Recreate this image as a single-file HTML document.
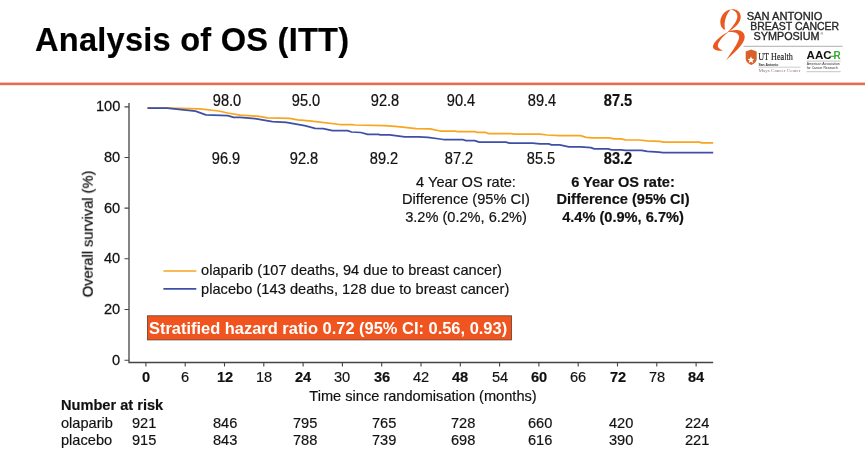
<!DOCTYPE html>
<html><head><meta charset="utf-8">
<style>
html,body{margin:0;padding:0;background:#fff;}
body{width:865px;height:460px;position:relative;overflow:hidden;font-family:"Liberation Sans",sans-serif;color:#111;}
.t{position:absolute;will-change:transform;white-space:nowrap;line-height:1;-webkit-text-stroke-width:0.18px;}
.c{transform:translateX(-50%);}
.b{font-weight:bold;}
#rule{position:absolute;left:0;top:82px;width:865px;height:4px;background:linear-gradient(to bottom,#f5c3b5 0,#f5c3b5 1px,#ea6a4d 1px,#ea6a4d 3px,#fbeae4 3px,#fbeae4 4px);}
svg{position:absolute;left:0;top:0;will-change:transform;}
</style></head><body>
<div id="rule"></div>
<svg width="865" height="460" viewBox="0 0 865 460">
<g stroke="#444" stroke-width="1.1" fill="none">
<path d="M129 103V362.5H713.2" stroke-width="1.3"/>
<path d="M124.5 106.9H129M124.5 157.5H129M124.5 208.1H129M124.5 258.8H129M124.5 309.5H129M124.5 360.2H129"/>
<path d="M145.9 362.5v4M185.2 362.5v4M224.5 362.5v4M263.8 362.5v4M303.1 362.5v4M342.4 362.5v4M381.7 362.5v4M421.0 362.5v4M460.3 362.5v4M499.6 362.5v4M538.9 362.5v4M578.2 362.5v4M617.5 362.5v4M656.8 362.5v4M696.1 362.5v4"/>
</g>
<path id="ora" fill="none" stroke="#f9a51f" stroke-width="1.75" stroke-linejoin="round" d="M147.5 108.1H167.2L180.5 108.3L200 108.9L218.6 111L227.9 113L240 115.2L257.3 116.2L267.7 117.9L289.7 118.3L297.8 119.9L309.4 120.8L340 124.5H351.6L355 125L384 125.6L395.5 126.4L416.3 128.7L430.2 128.8L440 131H455L457 131.5H474.7L477 132.3H485.1L488.6 133.5H510.5L514 134.2H540L547 135L559.7 135.6H580.5L586.2 137.3L592 137.9H609.4L614 138.8H621L625.5 139.9L639.2 140L647.3 140.8L660 141.4L663.5 142.1H699.4L701.7 142.9H713.2"/>
<path id="blu" fill="none" stroke="#3e4fa7" stroke-width="1.75" stroke-linejoin="round" d="M147.5 108.1H167.2L195.5 111.2L205.9 114.8L227.9 115.6L233.6 117.3H240L255 118.7L272.4 121.7L286.2 122.3L304.7 125.7L315.1 128.3L323.2 128.6L332.5 130.6H347.5L351.6 132L360.8 132.5L367.7 134.3H378.2L380.5 134.9H389.7L404.7 136.9H418.6L427.9 137.4L440 139L443.5 139.5H462.5L466 140.7H474.7L479.3 142.2H505.9L509.4 143.1H532.5L540 143.9H548.7L551.6 144.9H559.7L568.9 146.8H580.5L590.9 147.7L594.3 148.9H608.2L611.7 149.8H621L625.5 150.4H641.6L647.3 151.4L658.9 152.2L663 152.7H713.2"/>
<path d="M163.4 271H196.3" stroke="#f9a51f" stroke-width="1.7"/>
<path d="M163.4 288.9H196.3" stroke="#3e4fa7" stroke-width="1.7"/>
<rect x="147.5" y="315.8" width="364" height="24.1" fill="#f1551f" stroke="#6a4030" stroke-width="0.85"/>
</svg>

<svg width="865" height="460" viewBox="0 0 865 460" style="font-family:'Liberation Sans',sans-serif">
<g transform="translate(708,4) scale(0.13043)" fill="#ea5a20">
<path d="M175 42C122 48 86 105 96 155C101 180 114 194 132 198C123 172 126 130 139 98C149 74 161 55 175 42Z"/>
<path d="M175 42C222 31 254 62 251 104C248 148 200 190 148 218C180 185 220 140 225 100C228 70 206 48 175 42Z"/>
<path d="M148 216C195 194 260 190 279 236C294 284 240 342 138 432C192 352 242 288 238 250C234 221 198 212 148 216Z"/>
<path d="M162 208C110 235 48 280 38 322C31 351 82 365 114 357C92 346 72 336 76 314C80 286 120 240 162 208Z"/>
</g>
<g fill="#262626" font-size="11.1" stroke="#262626" stroke-width="0.35">
<text x="746.7" y="19.6" textLength="75.8" lengthAdjust="spacingAndGlyphs">SAN ANTONIO</text>
<text x="750.2" y="30" textLength="89" lengthAdjust="spacingAndGlyphs">BREAST CANCER</text>
<text x="753.6" y="40.3" textLength="66" lengthAdjust="spacingAndGlyphs">SYMPOSIUM</text>
<text x="820.4" y="35" font-size="3.5" stroke="none">®</text>
</g>
<path d="M743.6 46.3H842.6" stroke="#9a9a9a" stroke-width="0.8"/>
<!-- UT shield -->
<path d="M745.7 51.6L751.2 49.6L756.7 51.6V58.5C756.7 61.8 754 63.8 751.2 65C748.4 63.8 745.7 61.8 745.7 58.5Z" fill="#d8602a"/>
<path d="M751 56.6l1 2.2 2.4 0.2-1.8 1.6 0.5 2.3-2.1-1.2-2.1 1.2 0.5-2.3-1.8-1.6 2.4-0.2z" fill="#fff"/>
<text x="758.2" y="60.4" font-family="'Liberation Serif',serif" font-size="9.8" fill="#222" stroke="#222" stroke-width="0.15" textLength="34.6" lengthAdjust="spacingAndGlyphs">UT Health</text>
<text x="758.4" y="65.6" font-size="2.8" fill="#333" font-weight="bold" textLength="20" lengthAdjust="spacingAndGlyphs">San Antonio</text>
<path d="M758.4 67.2H800.5" stroke="#999" stroke-width="0.5"/>
<text x="758.4" y="72.2" font-family="'Liberation Serif',serif" font-size="4.4" fill="#8f7478" textLength="42" lengthAdjust="spacingAndGlyphs">Mays Cancer Center</text>
<!-- AACR -->
<text x="806.6" y="58.9" font-size="11.6" font-weight="bold" fill="#111" textLength="25" lengthAdjust="spacingAndGlyphs">AAC</text>
<text x="833.6" y="58.9" font-size="11.6" font-weight="bold" fill="#3aa935" textLength="7.2" lengthAdjust="spacingAndGlyphs">R</text>
<path d="M829.6 56.3H835.5" stroke="#3aa935" stroke-width="1.2"/>
<path d="M806.6 61.1H840.7M806.6 71.7H840.7" stroke="#888" stroke-width="0.5"/>
<text x="806.8" y="65.1" font-size="3.1" fill="#333" textLength="33" lengthAdjust="spacingAndGlyphs">American Association</text>
<text x="806.8" y="69.1" font-size="3.1" fill="#333" textLength="31" lengthAdjust="spacingAndGlyphs">for Cancer Research</text>
</svg>

<div class="t b" style="top:23.69px;font-size:32.6px;left:34.9px;color:#000;letter-spacing:0.24px;">Analysis of OS (ITT)</div>
<div class="t" style="top:99.12px;font-size:14.6px;right:744.7px;transform:scaleY(1.06);transform-origin:50% 48.5%;-webkit-text-stroke-width:0.25px;">100</div>
<div class="t" style="top:150.12px;font-size:14.6px;right:744.7px;transform:scaleY(1.06);transform-origin:50% 48.5%;-webkit-text-stroke-width:0.25px;">80</div>
<div class="t" style="top:200.72px;font-size:14.6px;right:744.7px;transform:scaleY(1.06);transform-origin:50% 48.5%;-webkit-text-stroke-width:0.25px;">60</div>
<div class="t" style="top:251.32px;font-size:14.6px;right:744.7px;transform:scaleY(1.06);transform-origin:50% 48.5%;-webkit-text-stroke-width:0.25px;">40</div>
<div class="t" style="top:301.92px;font-size:14.6px;right:744.7px;transform:scaleY(1.06);transform-origin:50% 48.5%;-webkit-text-stroke-width:0.25px;">20</div>
<div class="t" style="top:352.52px;font-size:14.6px;right:744.7px;transform:scaleY(1.06);transform-origin:50% 48.5%;-webkit-text-stroke-width:0.25px;">0</div>
<div class="t" id="ylab" style="left:88px;top:234.2px;transform:translate(-50%,-50%) rotate(-90deg);font-size:14.6px;color:#000;">Overall survival (%)</div>
<div class="t c b" style="top:370.12px;font-size:14.6px;left:145.9px;">0</div>
<div class="t c" style="top:370.12px;font-size:14.6px;left:185.2px;">6</div>
<div class="t c b" style="top:370.12px;font-size:14.6px;left:224.5px;">12</div>
<div class="t c" style="top:370.12px;font-size:14.6px;left:263.8px;">18</div>
<div class="t c b" style="top:370.12px;font-size:14.6px;left:303.1px;">24</div>
<div class="t c" style="top:370.12px;font-size:14.6px;left:342.4px;">30</div>
<div class="t c b" style="top:370.12px;font-size:14.6px;left:381.7px;">36</div>
<div class="t c" style="top:370.12px;font-size:14.6px;left:421.0px;">42</div>
<div class="t c b" style="top:370.12px;font-size:14.6px;left:460.3px;">48</div>
<div class="t c" style="top:370.12px;font-size:14.6px;left:499.6px;">54</div>
<div class="t c b" style="top:370.12px;font-size:14.6px;left:538.9px;">60</div>
<div class="t c" style="top:370.12px;font-size:14.6px;left:578.2px;">66</div>
<div class="t c b" style="top:370.12px;font-size:14.6px;left:617.5px;">72</div>
<div class="t c" style="top:370.12px;font-size:14.6px;left:656.8px;">78</div>
<div class="t c b" style="top:370.12px;font-size:14.6px;left:696.1px;">84</div>
<div class="t c" style="top:388.52px;font-size:14.6px;left:422.7px;">Time since randomisation (months)</div>
<div class="t b" style="top:398.02px;font-size:14.6px;left:60.8px;">Number at risk</div>
<div class="t" style="top:415.92px;font-size:14.6px;left:60.8px;">olaparib</div>
<div class="t" style="top:433.22px;font-size:14.6px;left:60.8px;">placebo</div>
<div class="t" style="top:415.92px;font-size:14.6px;left:132.0px;">921</div>
<div class="t" style="top:433.22px;font-size:14.6px;left:132.0px;">915</div>
<div class="t" style="top:415.92px;font-size:14.6px;left:213.4px;">846</div>
<div class="t" style="top:433.22px;font-size:14.6px;left:213.4px;">843</div>
<div class="t" style="top:415.92px;font-size:14.6px;left:292.8px;">795</div>
<div class="t" style="top:433.22px;font-size:14.6px;left:292.8px;">788</div>
<div class="t" style="top:415.92px;font-size:14.6px;left:371.9px;">765</div>
<div class="t" style="top:433.22px;font-size:14.6px;left:371.9px;">739</div>
<div class="t" style="top:415.92px;font-size:14.6px;left:451.3px;">728</div>
<div class="t" style="top:433.22px;font-size:14.6px;left:451.3px;">698</div>
<div class="t" style="top:415.92px;font-size:14.6px;left:528.1px;">660</div>
<div class="t" style="top:433.22px;font-size:14.6px;left:528.1px;">616</div>
<div class="t" style="top:415.92px;font-size:14.6px;left:608.7px;">420</div>
<div class="t" style="top:433.22px;font-size:14.6px;left:608.7px;">390</div>
<div class="t" style="top:415.92px;font-size:14.6px;left:685.3px;">224</div>
<div class="t" style="top:433.22px;font-size:14.6px;left:685.3px;">221</div>
<div class="t" style="top:263.12px;font-size:14.6px;left:201px;letter-spacing:0.035px;">olaparib (107 deaths, 94 due to breast cancer)</div>
<div class="t" style="top:281.52px;font-size:14.6px;left:201px;letter-spacing:0.035px;">placebo (143 deaths, 128 due to breast cancer)</div>
<div class="t c" style="top:94.22px;font-size:14.6px;left:227px;transform:translateX(-50%) scaleY(1.07);transform-origin:50% 48.5%;-webkit-text-stroke-width:0.2px;">98.0</div>
<div class="t c" style="top:94.22px;font-size:14.6px;left:306px;transform:translateX(-50%) scaleY(1.07);transform-origin:50% 48.5%;-webkit-text-stroke-width:0.2px;">95.0</div>
<div class="t c" style="top:94.22px;font-size:14.6px;left:385px;transform:translateX(-50%) scaleY(1.07);transform-origin:50% 48.5%;-webkit-text-stroke-width:0.2px;">92.8</div>
<div class="t c" style="top:94.22px;font-size:14.6px;left:460.5px;transform:translateX(-50%) scaleY(1.07);transform-origin:50% 48.5%;-webkit-text-stroke-width:0.2px;">90.4</div>
<div class="t c" style="top:94.22px;font-size:14.6px;left:542px;transform:translateX(-50%) scaleY(1.07);transform-origin:50% 48.5%;-webkit-text-stroke-width:0.2px;">89.4</div>
<div class="t c b" style="top:94.22px;font-size:14.6px;left:618px;transform:translateX(-50%) scaleY(1.07);transform-origin:50% 48.5%;-webkit-text-stroke-width:0.2px;">87.5</div>
<div class="t c" style="top:152.12px;font-size:14.6px;left:226px;transform:translateX(-50%) scaleY(1.07);transform-origin:50% 48.5%;-webkit-text-stroke-width:0.2px;">96.9</div>
<div class="t c" style="top:152.12px;font-size:14.6px;left:304px;transform:translateX(-50%) scaleY(1.07);transform-origin:50% 48.5%;-webkit-text-stroke-width:0.2px;">92.8</div>
<div class="t c" style="top:152.12px;font-size:14.6px;left:384px;transform:translateX(-50%) scaleY(1.07);transform-origin:50% 48.5%;-webkit-text-stroke-width:0.2px;">89.2</div>
<div class="t c" style="top:152.12px;font-size:14.6px;left:459.4px;transform:translateX(-50%) scaleY(1.07);transform-origin:50% 48.5%;-webkit-text-stroke-width:0.2px;">87.2</div>
<div class="t c" style="top:152.12px;font-size:14.6px;left:541px;transform:translateX(-50%) scaleY(1.07);transform-origin:50% 48.5%;-webkit-text-stroke-width:0.2px;">85.5</div>
<div class="t c b" style="top:152.12px;font-size:14.6px;left:618px;transform:translateX(-50%) scaleY(1.07);transform-origin:50% 48.5%;-webkit-text-stroke-width:0.2px;">83.2</div>
<div class="t c" style="top:175.22px;font-size:14.6px;left:466px;">4 Year OS rate:</div>
<div class="t c" style="top:192.42px;font-size:14.6px;left:466px;">Difference (95% CI)</div>
<div class="t c" style="top:209.92px;font-size:14.6px;left:466px;">3.2% (0.2%, 6.2%)</div>
<div class="t c b" style="top:175.22px;font-size:14.6px;left:623px;">6 Year OS rate:</div>
<div class="t c b" style="top:192.42px;font-size:14.6px;left:623px;">Difference (95% CI)</div>
<div class="t c b" style="top:209.92px;font-size:14.6px;left:623px;">4.4% (0.9%, 6.7%)</div>
<div class="t b" style="top:319.72px;font-size:16.45px;left:148.8px;color:#fff;transform:scaleY(1.05);transform-origin:50% 48.5%;-webkit-text-stroke-width:0;">Stratified hazard ratio 0.72 (95% CI: 0.56, 0.93)</div>
</body></html>
